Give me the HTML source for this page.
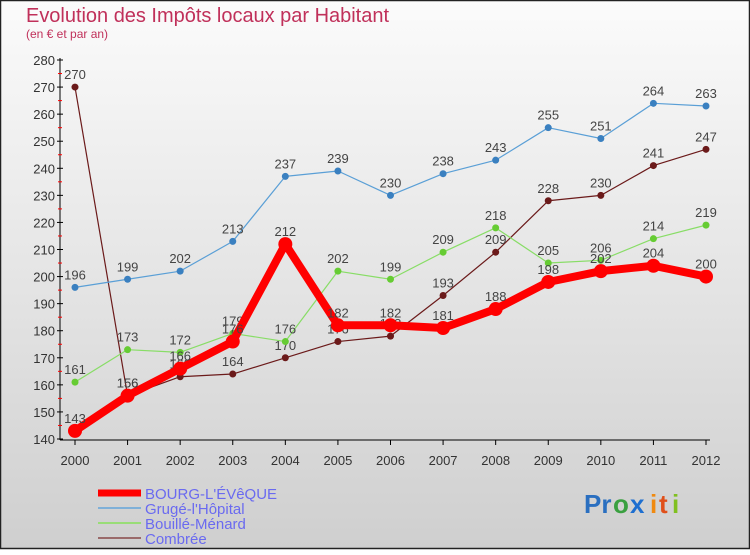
<!DOCTYPE html>
<html><head><meta charset="utf-8">
<style>
html,body{margin:0;padding:0}
body{width:750px;height:550px;overflow:hidden;font-family:"Liberation Sans",sans-serif}
</style></head>
<body>
<svg id="chart" width="750" height="550" xmlns="http://www.w3.org/2000/svg">
<defs>
<linearGradient id="bg" x1="0" y1="0" x2="0" y2="1">
<stop offset="0" stop-color="#fbfbfb"/><stop offset="1" stop-color="#cfcfcf"/>
</linearGradient>
</defs>
<rect x="0.5" y="0.5" width="749" height="548" fill="url(#bg)" stroke="#222" stroke-width="1.5"/>
<text x="26" y="22" font-size="20" fill="#c0305a" textLength="363">Evolution des Impôts locaux par Habitant</text>
<text x="26" y="38" font-size="12" fill="#c0305a">(en € et par an)</text>
<g id="axes"></g>
<g id="series"></g>
<g id="legend"></g>
<g font-size="26" font-weight="bold" font-family="Liberation Sans, sans-serif">
<text x="584" y="513" fill="#2a6fc0">Pr</text><text x="613" y="513" fill="#3aa040">o</text><text x="630" y="513" fill="#1e6fd0">x</text><text x="650" y="513" fill="#f08a10">i</text><text x="659" y="513" fill="#e0501a">t</text><text x="672" y="513" fill="#80c020">i</text>
</g>
</svg>
<script>
const years=[2000,2001,2002,2003,2004,2005,2006,2007,2008,2009,2010,2011,2012];
const bourg=[143,156,166,176,212,182,182,181,188,198,202,204,200];
const gruge=[196,199,202,213,237,239,230,238,243,255,251,264,263];
const bouille=[161,173,172,179,176,202,199,209,218,205,206,214,219];
const combree=[270,156,163,164,170,176,178,193,209,228,230,241,247];
const yTicks=[140,150,160,170,180,190,200,210,220,230,240,250,260,270,280];
const NS="http://www.w3.org/2000/svg";
function X(i){return 75+i*(706-75)/(years.length-1);}
function Y(v){return 439-(v-140)*(439-60)/140;}
function mk(tag,attrs,parent){const e=document.createElementNS(NS,tag);for(const k in attrs)e.setAttribute(k,attrs[k]);parent.appendChild(e);return e;}
const axes=document.getElementById('axes');
const ax=mk('line',{x1:60,y1:58,x2:60,y2:440,stroke:'#000','stroke-width':1},axes);


yTicks.forEach(t=>{
 const l=mk('line',{x1:57,x2:63,y1:Y(t),y2:Y(t),stroke:'#000'},axes);
 
 
 const tx=mk('text',{x:55,y:Y(t)+5,'text-anchor':'end','font-size':13,fill:'#333'},axes);
 tx.textContent=t;
 
 
 if(t<280){const m=mk('line',{x1:58,x2:62,y1:Y(t+5),y2:Y(t+5),stroke:'#f00'},axes);
 
 }
});
const xa=mk('line',{x1:60,y1:440,x2:710,y2:440,stroke:'#000'},axes);


years.forEach((y,i)=>{
 const l=mk('line',{x1:X(i),x2:X(i),y1:440,y2:445,stroke:'#000'},axes);
 
 
 const tx=mk('text',{x:X(i),y:465,'text-anchor':'middle','font-size':13,fill:'#333'},axes);
 tx.textContent=y;
 
 
});
const seriesG=document.getElementById('series');
const defs=[
 {name:'combree',data:combree,color:'#6b1a1a',w:1.2,r:3.5},
 {name:'bouille',data:bouille,color:'#88dd66',w:1.2,r:3.5,fill:'#66cc33'},
 {name:'gruge',data:gruge,color:'#5a9fd6',w:1.2,r:3.5,fill:'#3a80c0'},
 {name:'bourg',data:bourg,color:'#ff0000',w:8,r:7}
];
defs.forEach(s=>{
 const g=mk('g',{},seriesG);
 
 
 const pts=s.data.map((v,i)=>X(i)+','+Y(v)).join(' ');
 const pl=mk('polyline',{points:pts,fill:'none',stroke:s.color,'stroke-width':s.w,'stroke-linejoin':'round'},g);
 
 
 s.data.forEach((v,i)=>{
  const c=mk('circle',{cx:X(i),cy:Y(v),r:s.r,fill:s.fill||s.color},g);
  
  
  const t=mk('text',{x:X(i),y:Y(v)-8,'text-anchor':'middle','font-size':13,fill:'#444'},g);
  t.textContent=v;
  
  
 });
});
const legendNames=['BOURG-L\'ÉVêQUE','Grugé-l\'Hôpital','Bouillé-Ménard','Combrée'];
const legendColors=['#ff0000','#7fb0d8','#99dd77','#9a6a6a'];
const legendW=[7,2,2,2];
const lg=document.getElementById('legend');
legendNames.forEach((n,i)=>{
 const y=493+i*15;
 const l=mk('line',{x1:98,x2:141,y1:y,y2:y,stroke:legendColors[i],'stroke-width':legendW[i]},lg);
 
 
 const t=mk('text',{x:145,y:y+6,'font-size':15,fill:'#6a6af0'},lg);
 t.textContent=n;
 
 
});
</script>
</body></html>
